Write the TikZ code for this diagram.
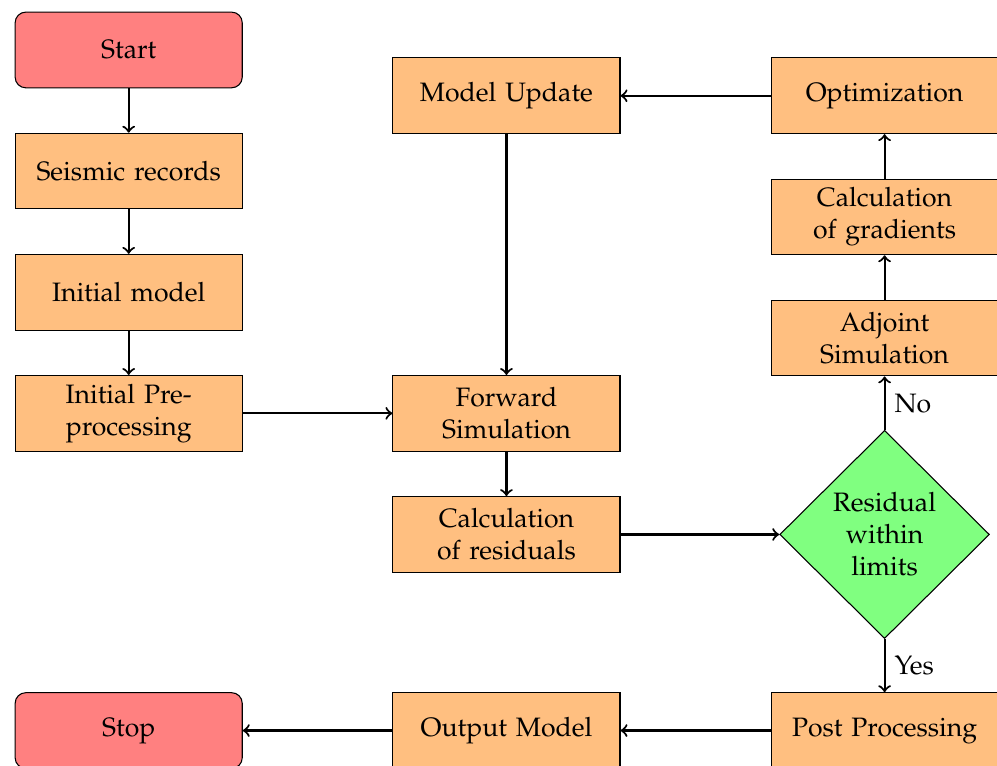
\documentclass[tikz,border=0pt]{standalone}
\usepackage[T1]{fontenc}
\usepackage{mathpazo}
\usetikzlibrary{shapes.geometric}
\tikzset{
  terminal/.style={rectangle, rounded corners, draw=black, fill=red!50,
    minimum width=3cm, minimum height=1cm, text width=2.7cm, align=center, inner sep=0pt},
  process/.style={rectangle, draw=black, fill=orange!50,
    minimum width=3cm, minimum height=1cm, text width=2.7cm, align=center, inner sep=0pt},
  decision/.style={diamond, draw=black, fill=green!50, minimum width=2.77cm,
    minimum height=2.75cm, align=center, inner sep=0pt},
  flow/.style={thick, ->},
}
\begin{document}
\begin{tikzpicture}
\useasboundingbox (0,0) rectangle (13.17,-10.106);
% left column
\node[terminal] (start) at (1.70,-0.66) {Start};
\node[process] (records) at (1.70,-2.26) {Seismic records};
\node[process] (initmodel) at (1.70,-3.86) {Initial model};
\node[process] (preproc) at (1.70,-5.46) {Initial Pre-processing};
\node[terminal] (stop) at (1.70,-9.65) {Stop};
% middle column
\node[process] (update) at (6.69,-1.265) {Model Update};
\node[process] (forward) at (6.69,-5.46) {Forward Simulation};
\node[process] (residuals) at (6.69,-7.06) {Calculation of residuals};
\node[process] (output) at (6.69,-9.65) {Output Model};
% right column
\node[process] (optim) at (11.685,-1.265) {Optimization};
\node[process] (gradients) at (11.685,-2.865) {Calculation of gradients};
\node[process] (adjoint) at (11.685,-4.465) {Adjoint Simulation};
\node[decision] (check) at (11.685,-7.06) {Residual\\within\\limits};
\node[process] (post) at (11.685,-9.65) {Post Processing};
% connectors
\draw[flow] (start) -- (records);
\draw[flow] (records) -- (initmodel);
\draw[flow] (initmodel) -- (preproc);
\draw[flow] (preproc) -- (forward);
\draw[flow] (forward) -- (residuals);
\draw[flow] (residuals) -- (check);
\draw[flow] (check) -- node[right] {No} (adjoint);
\draw[flow] (adjoint) -- (gradients);
\draw[flow] (gradients) -- (optim);
\draw[flow] (optim) -- (update);
\draw[flow] (update) -- (forward);
\draw[flow] (check) -- node[right] {Yes} (post);
\draw[flow] (post) -- (output);
\draw[flow] (output) -- (stop);
\end{tikzpicture}
\end{document}
